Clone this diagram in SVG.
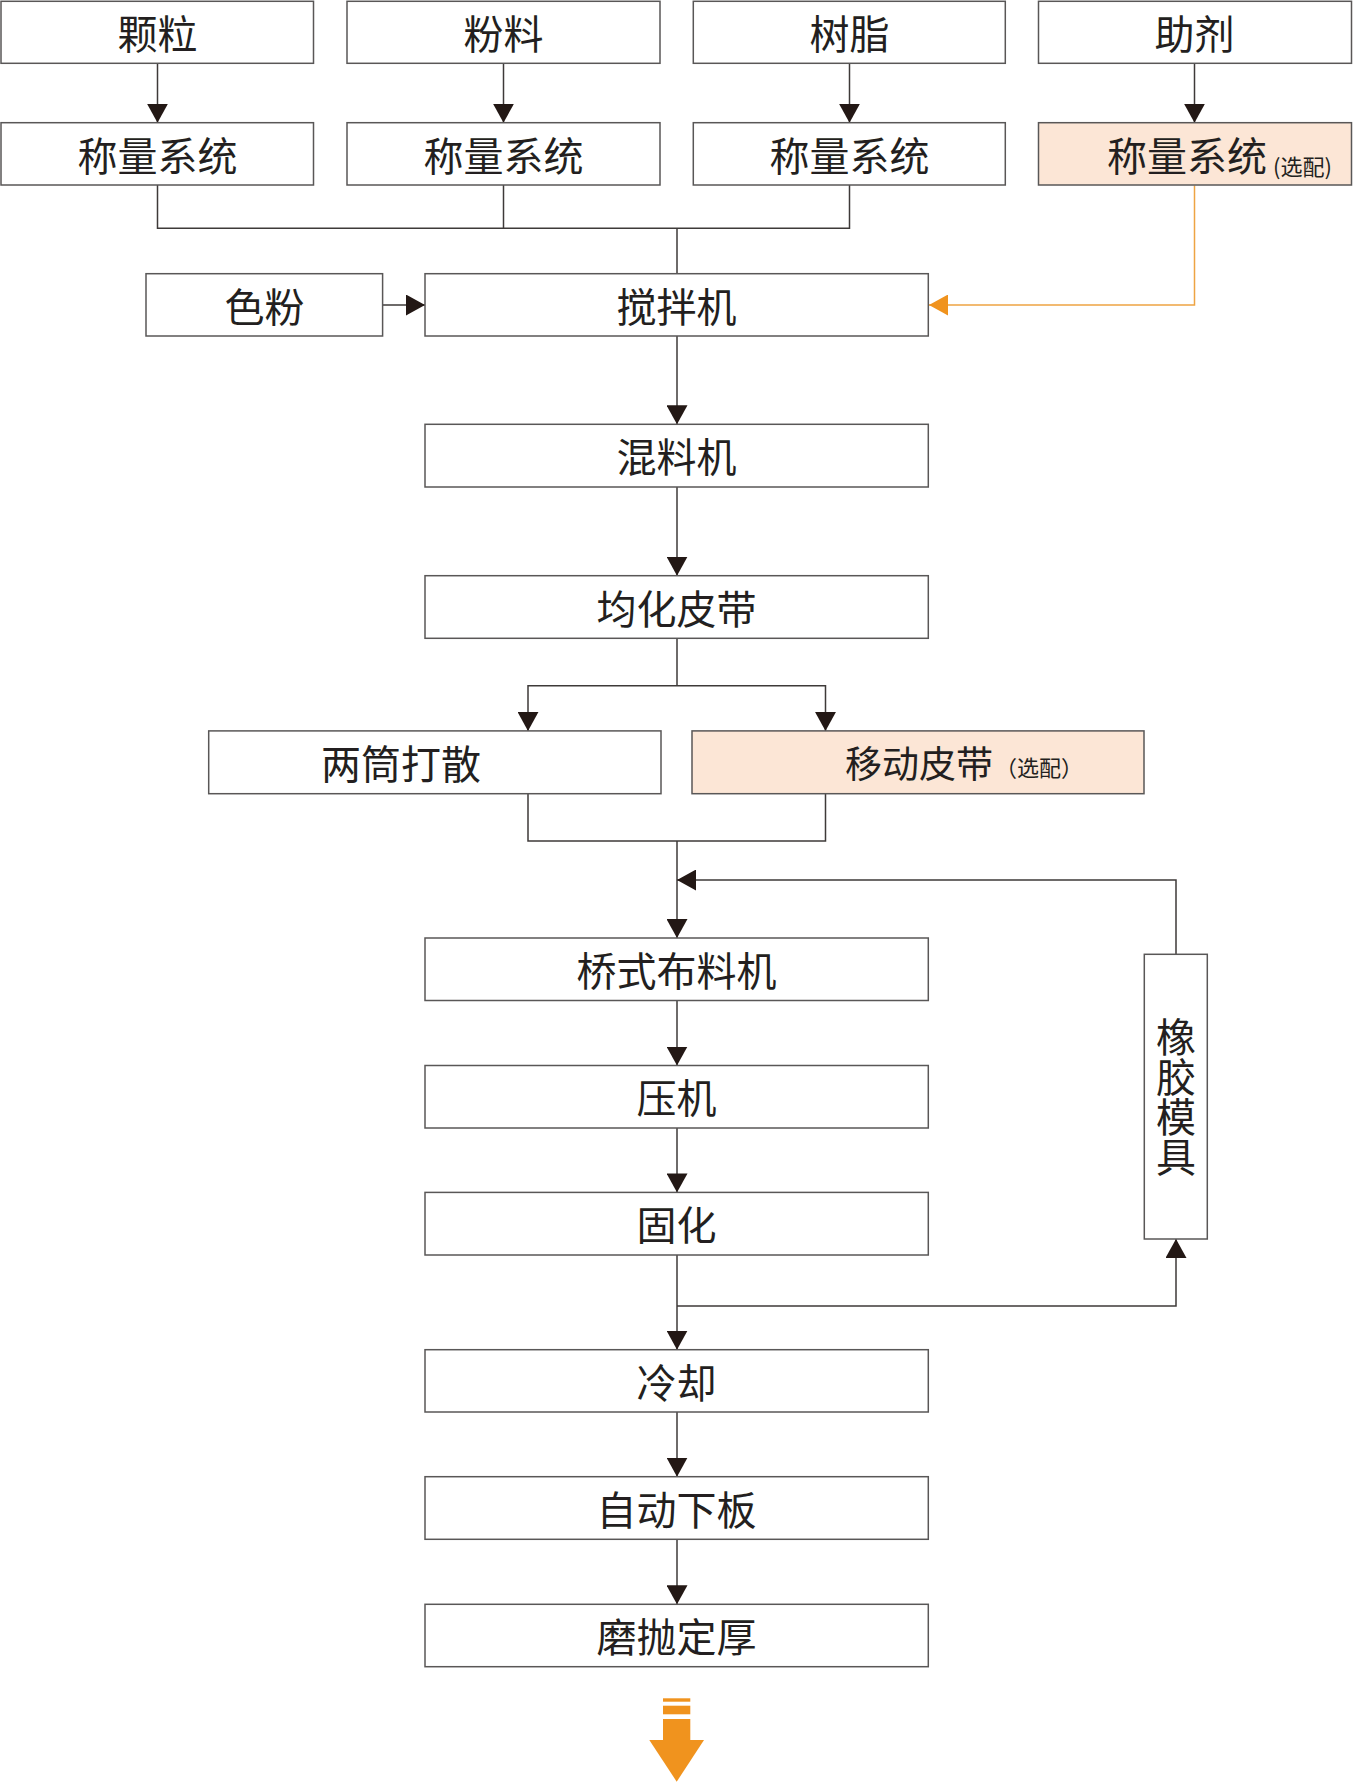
<svg xmlns="http://www.w3.org/2000/svg" width="1354" height="1783" viewBox="0 0 1354 1783">
<style>
.box{fill:#ffffff;stroke:#595757;stroke-width:1.5}
.opt{fill:#fce6d6;stroke:#595757;stroke-width:1.5}
.t{font-family:"Noto Sans CJK SC","Noto Sans",sans-serif;font-size:40px;fill:#231f20;text-anchor:middle}
.ts{font-family:"Noto Sans CJK SC","Noto Sans",sans-serif;font-size:22px;fill:#231f20}
.ln{fill:none;stroke:#3e3a39;stroke-width:1.5}
.arr{fill:none;stroke:#3e3a39;stroke-width:1.5;marker-end:url(#ah)}
.oln{fill:none;stroke:#eea443;stroke-width:1.5;marker-end:url(#oah)}
</style>
<defs>
<marker id="ah" markerUnits="userSpaceOnUse" markerWidth="19" markerHeight="21" refX="19" refY="10.5" orient="auto">
<path d="M0,0 L19,10.5 L0,21 z" fill="#231815"/>
</marker>
<marker id="oah" markerUnits="userSpaceOnUse" markerWidth="19" markerHeight="21" refX="19" refY="10.5" orient="auto">
<path d="M0,0 L19,10.5 L0,21 z" fill="#f0931e"/>
</marker>
</defs>
<rect width="1354" height="1783" fill="#ffffff"/>

<g id="connectors">
<line class="arr" x1="157.5" y1="64" x2="157.5" y2="122.7"/>
<line class="arr" x1="503.5" y1="64" x2="503.5" y2="122.7"/>
<line class="arr" x1="849.5" y1="64" x2="849.5" y2="122.7"/>
<line class="arr" x1="1194.5" y1="64" x2="1194.5" y2="122.7"/>
<polyline class="ln" points="157.5,185 157.5,228.3 849.5,228.3 849.5,185"/>
<line class="ln" x1="503.5" y1="185" x2="503.5" y2="228.3"/>
<line class="ln" x1="677" y1="228.3" x2="677" y2="273.7"/>
<line class="arr" x1="382.6" y1="305" x2="425" y2="305"/>
<polyline class="oln" points="1194.5,185.5 1194.5,305 929,305"/>
<line class="arr" x1="677" y1="336" x2="677" y2="424.3"/>
<line class="arr" x1="677" y1="487" x2="677" y2="575.7"/>
<line class="ln" x1="677" y1="638.3" x2="677" y2="685.7"/>
<polyline class="arr" points="677,685.7 528,685.7 528,730.9"/>
<polyline class="arr" points="677,685.7 825.5,685.7 825.5,730.9"/>
<polyline class="ln" points="528,793.7 528,841 825.5,841 825.5,793.7"/>
<line class="arr" x1="677" y1="841" x2="677" y2="938"/>
<polyline class="arr" points="1176,954.3 1176,880 677,880"/>
<line class="arr" x1="677" y1="1000.5" x2="677" y2="1065.5"/>
<line class="arr" x1="677" y1="1128" x2="677" y2="1192.4"/>
<line class="arr" x1="677" y1="1255" x2="677" y2="1349.7"/>
<polyline class="arr" points="677,1306 1176,1306 1176,1239"/>
<line class="arr" x1="677" y1="1412" x2="677" y2="1476.7"/>
<line class="arr" x1="677" y1="1539.3" x2="677" y2="1604.3"/>
</g>

<g id="n-keli"><rect class="box" x="1" y="1.3" width="312.5" height="62"/><text class="t" x="157.5" y="49">颗粒</text></g>
<g id="n-fenliao"><rect class="box" x="347" y="1.3" width="313" height="62"/><text class="t" x="503.5" y="49">粉料</text></g>
<g id="n-shuzhi"><rect class="box" x="693.3" y="1.3" width="312" height="62"/><text class="t" x="849.5" y="49">树脂</text></g>
<g id="n-zhuji"><rect class="box" x="1038.5" y="1.3" width="313" height="62"/><text class="t" x="1194.5" y="49">助剂</text></g>

<g id="n-cheng1"><rect class="box" x="1" y="122.7" width="312.5" height="62.3"/><text class="t" x="157.5" y="170.5">称量系统</text></g>
<g id="n-cheng2"><rect class="box" x="347" y="122.7" width="313" height="62.3"/><text class="t" x="503.5" y="170.5">称量系统</text></g>
<g id="n-cheng3"><rect class="box" x="693.3" y="122.7" width="312" height="62.3"/><text class="t" x="849.5" y="170.5">称量系统</text></g>
<g id="n-cheng4"><rect class="opt" x="1038.5" y="122.7" width="313" height="62.3"/><text class="t" x="1107" y="170.5" style="text-anchor:start">称量系统</text><text class="ts" x="1273" y="175">(选配)</text></g>

<g id="n-sefen"><rect class="box" x="146" y="273.7" width="236.6" height="62.3"/><text class="t" x="264.5" y="321.5">色粉</text></g>
<g id="n-jiaoban"><rect class="box" x="425" y="273.7" width="503.3" height="62.3"/><text class="t" x="676.5" y="321.5">搅拌机</text></g>
<g id="n-hunliao"><rect class="box" x="425" y="424.3" width="503.3" height="62.7"/><text class="t" x="676.5" y="472">混料机</text></g>
<g id="n-junhua"><rect class="box" x="425" y="575.7" width="503.3" height="62.6"/><text class="t" x="676.5" y="623.5">均化皮带</text></g>
<g id="n-liangtong"><rect class="box" x="208.7" y="730.9" width="452.3" height="62.8"/><text class="t" x="401" y="779">两筒打散</text></g>
<g id="n-yidong"><rect class="opt" x="692" y="730.9" width="452" height="62.8"/><text class="t" x="845" y="778" style="text-anchor:start;font-size:37px">移动皮带</text><text class="ts" x="995" y="776">（选配）</text></g>
<g id="n-qiaoshi"><rect class="box" x="425" y="938" width="503.3" height="62.5"/><text class="t" x="676.5" y="985.5">桥式布料机</text></g>
<g id="n-yaji"><rect class="box" x="425" y="1065.5" width="503.3" height="62.5"/><text class="t" x="676.5" y="1113">压机</text></g>
<g id="n-guhua"><rect class="box" x="425" y="1192.4" width="503.3" height="62.6"/><text class="t" x="676.5" y="1240">固化</text></g>
<g id="n-lengque"><rect class="box" x="425" y="1349.7" width="503.3" height="62.3"/><text class="t" x="676.5" y="1397.5">冷却</text></g>
<g id="n-zidong"><rect class="box" x="425" y="1476.7" width="503.3" height="62.6"/><text class="t" x="676.5" y="1524.5">自动下板</text></g>
<g id="n-mopao"><rect class="box" x="425" y="1604.3" width="503.3" height="62.4"/><text class="t" x="676.5" y="1652">磨抛定厚</text></g>
<g id="n-xiangjiao"><rect class="box" x="1144.3" y="954.3" width="63" height="284.7"/>
<text class="t" x="1176" y="1017" style="writing-mode:vertical-rl;text-anchor:start">橡胶模具</text></g>

<g id="end-arrow" fill="#f0931e">
<rect x="663" y="1698.3" width="27.3" height="3.4"/>
<rect x="663" y="1705.7" width="27.3" height="8.6"/>
<rect x="663" y="1719" width="27.3" height="21.5"/>
<polygon points="649.3,1740 704,1740 676.7,1781.7"/>
</g>
</svg>
